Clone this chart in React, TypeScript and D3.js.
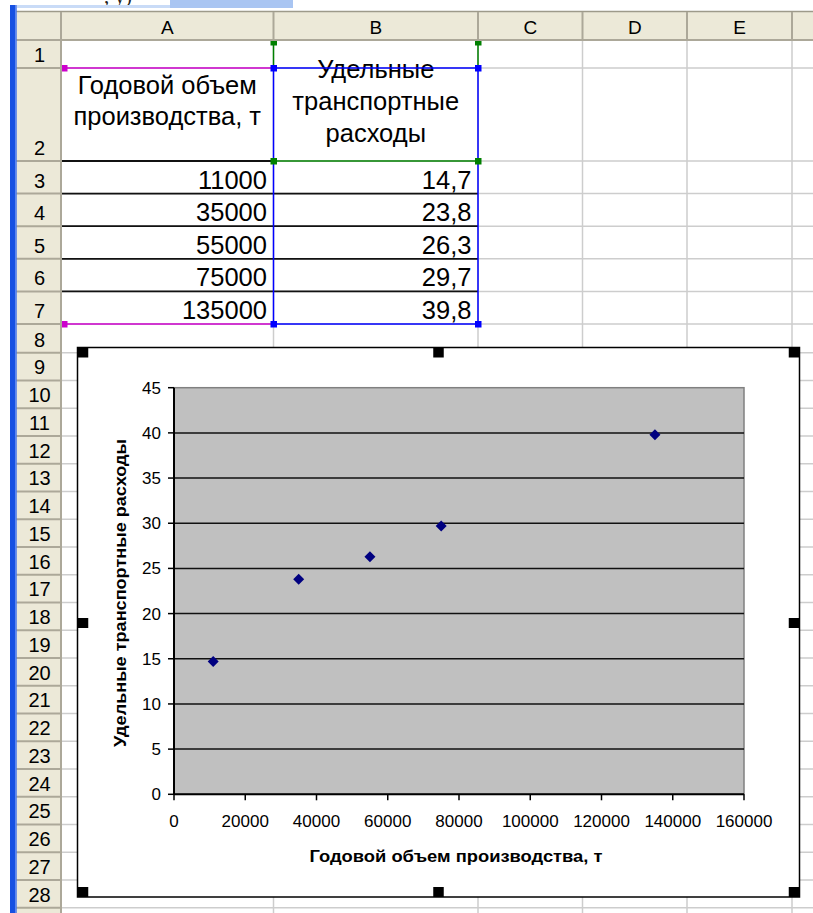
import React from "react";
import * as d3 from "d3";

// ---------- data ----------
const volumes = [11000, 35000, 55000, 75000, 135000];
const costs = [14.7, 23.8, 26.3, 29.7, 39.8];
const columnLetters = ["A", "B", "C", "D", "E"];
const rowNumbers = d3.range(1, 29);
const headerA = ["Годовой объем", "производства, т"];
const headerB = ["Удельные", "транспортные", "расходы"];
const xTickValues = [0, 20000, 40000, 60000, 80000, 100000, 120000, 140000, 160000];
const yTickValues = [0, 5, 10, 15, 20, 25, 30, 35, 40, 45];
const xTitle = "Годовой объем производства, т";
const yTitle = "Удельные транспортные расходы";

// ---------- layout ----------
const W = 813;
const H = 913;
const FONT = "'Liberation Sans', Arial, sans-serif";
const colX = [61, 273.5, 478, 582.5, 687, 792, 897];
const rowHeights = [28, 93, 32.6, 32.6, 32.6, 32.6, 32.6, 28.7, ...d3.range(21).map(() => 27.75)];
const rowY: number[] = [40];
rowHeights.forEach((h, i) => rowY.push(rowY[i] + h));

const HEADER_BG = "#ECE9D8";
const HEADER_LINE = "#ACA899";
const GRID = "#CDCDCD";

const chartBox = { x0: 77.5, y0: 347.5, x1: 799.5, y1: 897 };
const plot = { left: 174, right: 744, top: 387.7, bottom: 794.3 };

const x = d3.scaleLinear().domain([0, 160000]).range([plot.left, plot.right]);
const y = d3.scaleLinear().domain([0, 45]).range([plot.bottom, plot.top]);

const fmtComma = (v: number) => v.toFixed(1).replace(".", ",");

function Handle({ cx, cy }: { cx: number; cy: number }) {
  return <rect x={cx - 5.25} y={cy - 5} width={10.5} height={10} fill="#000" />;
}

function SelSquare({ cx, cy, color }: { cx: number; cy: number; color: string }) {
  return <rect x={cx - 3} y={cy - 3} width={6.5} height={6.5} fill={color} />;
}

export default function App() {
  const colCenter = (i: number) => (colX[i] + colX[i + 1]) / 2;
  const diamond = (cx: number, cy: number, r: number) =>
    d3.line()([
      [cx, cy - r],
      [cx + r, cy],
      [cx, cy + r],
      [cx - r, cy],
      [cx, cy - r],
    ]) + "Z";

  const chartMidX = (chartBox.x0 + chartBox.x1) / 2;
  const chartMidY = 623;

  return (
    <div style={{ position: "absolute", left: 0, top: 0, width: W, height: H, background: "#fff" }}>
      <svg width={W} height={H} viewBox={`0 0 ${W} ${H}`} style={{ display: "block" }}>
        <defs>
          <clipPath id="topclip">
            <rect x={0} y={0} width={W} height={10} />
          </clipPath>
        </defs>
        <rect x={0} y={0} width={W} height={H} fill="#fff" />

        {/* top strip */}
        <g clipPath="url(#topclip)">
          <text x={104} y={3} fontFamily="'Liberation Serif', serif" fontSize={21} fill="#222">
            , у)
          </text>
        </g>
        <rect x={17} y={5} width={276} height={3} fill="#C9DBF7" />
        <rect x={170} y={0} width={123} height={8} fill="#A9C5F2" />

        {/* cell gridlines */}
        {rowY.slice(1).map((ry, i) => (
          <line key={"gr" + i} x1={colX[0]} x2={W} y1={ry} y2={ry} stroke={GRID} strokeWidth={1.5} />
        ))}
        {colX.slice(1).map((cx, i) => (
          <line key={"gc" + i} x1={cx} x2={cx} y1={40} y2={H} stroke={GRID} strokeWidth={1.5} />
        ))}

        {/* table borders */}
        <line x1={colX[0]} x2={colX[1]} y1={rowY[2]} y2={rowY[2]} stroke="#111" strokeWidth={1.8} />
        {[3, 4, 5, 6].map((r) => (
          <line key={"tb" + r} x1={colX[0]} x2={colX[2]} y1={rowY[r]} y2={rowY[r]} stroke="#111" strokeWidth={1.8} />
        ))}

        {/* header texts in cells */}
        {headerA.map((t, i) => (
          <text key={"ha" + i} x={colCenter(0)} y={93.5 + i * 31.5} textAnchor="middle" fontFamily={FONT} fontSize={25.5} fill="#000">
            {t}
          </text>
        ))}
        {headerB.map((t, i) => (
          <text key={"hb" + i} x={colCenter(1)} y={77.5 + i * 32} textAnchor="middle" fontFamily={FONT} fontSize={25.5} fill="#000">
            {t}
          </text>
        ))}
        {volumes.map((v, i) => (
          <text key={"va" + i} x={colX[1] - 6.5} y={rowY[i + 3] - 5} textAnchor="end" fontFamily={FONT} fontSize={25.5} fill="#000">
            {v}
          </text>
        ))}
        {costs.map((v, i) => (
          <text key={"vb" + i} x={colX[2] - 6.5} y={rowY[i + 3] - 5} textAnchor="end" fontFamily={FONT} fontSize={25.5} fill="#000">
            {fmtComma(v)}
          </text>
        ))}

        {/* range highlights */}
        <line x1={colX[1]} x2={colX[1]} y1={41.5} y2={rowY[1]} stroke="#008000" strokeWidth={1.5} />
        <line x1={colX[2]} x2={colX[2]} y1={41.5} y2={rowY[1]} stroke="#008000" strokeWidth={1.5} />
        <line x1={colX[1]} x2={colX[2]} y1={rowY[2]} y2={rowY[2]} stroke="#008000" strokeWidth={1.5} />
        <line x1={colX[0] + 2} x2={colX[1]} y1={rowY[1]} y2={rowY[1]} stroke="#CC00CC" strokeWidth={1.5} />
        <line x1={colX[0] + 2} x2={colX[1]} y1={rowY[7]} y2={rowY[7]} stroke="#CC00CC" strokeWidth={1.5} />
        <rect x={colX[1]} y={rowY[1]} width={colX[2] - colX[1]} height={rowY[7] - rowY[1]} fill="none" stroke="#0000FF" strokeWidth={1.5} />
        <SelSquare cx={colX[1]} cy={42} color="#008000" />
        <SelSquare cx={colX[2]} cy={42} color="#008000" />
        <SelSquare cx={colX[1]} cy={rowY[2]} color="#008000" />
        <SelSquare cx={colX[2]} cy={rowY[2]} color="#008000" />
        <SelSquare cx={colX[0] + 3} cy={rowY[1]} color="#CC00CC" />
        <SelSquare cx={colX[0] + 3} cy={rowY[7]} color="#CC00CC" />
        <SelSquare cx={colX[1]} cy={rowY[1]} color="#0000FF" />
        <SelSquare cx={colX[2]} cy={rowY[1]} color="#0000FF" />
        <SelSquare cx={colX[1]} cy={rowY[7]} color="#0000FF" />
        <SelSquare cx={colX[2]} cy={rowY[7]} color="#0000FF" />

        {/* headers */}
        <rect x={16} y={12} width={W - 16} height={28} fill={HEADER_BG} />
        <rect x={16} y={40} width={45} height={H - 40} fill={HEADER_BG} />
        <line x1={16} x2={W} y1={11.5} y2={11.5} stroke="#9D9A8A" strokeWidth={1.5} />
        <line x1={16} x2={W} y1={40} y2={40} stroke={HEADER_LINE} strokeWidth={2} />
        {colX.map((cx, i) => (
          <line key={"hc" + i} x1={cx} x2={cx} y1={12} y2={40} stroke={HEADER_LINE} strokeWidth={2} />
        ))}
        <line x1={colX[0]} x2={colX[0]} y1={12} y2={H} stroke={HEADER_LINE} strokeWidth={2} />
        {rowY.slice(1).map((ry, i) => (
          <line key={"hr" + i} x1={16} x2={colX[0]} y1={ry} y2={ry} stroke={HEADER_LINE} strokeWidth={2} />
        ))}
        {columnLetters.map((c, i) => (
          <text key={"cl" + i} x={colCenter(i)} y={33.5} textAnchor="middle" fontFamily={FONT} fontSize={19} fill="#000">
            {c}
          </text>
        ))}
        {rowNumbers.map((n, i) => (
          <text key={"rn" + i} x={39.5} y={rowY[i + 1] - 6} textAnchor="middle" fontFamily={FONT} fontSize={20} fill="#000">
            {n}
          </text>
        ))}

        {/* left blue bar */}
        <rect x={10} y={5} width={6.5} height={H - 5} fill="#1650E2" />
        <rect x={15} y={5} width={1.5} height={H - 5} fill="#5C86EE" />

        {/* ---------- chart ---------- */}
        <rect
          x={chartBox.x0}
          y={chartBox.y0}
          width={chartBox.x1 - chartBox.x0}
          height={chartBox.y1 - chartBox.y0}
          fill="#fff"
          stroke="#000"
          strokeWidth={1.5}
        />
        <rect
          x={plot.left}
          y={plot.top}
          width={plot.right - plot.left}
          height={plot.bottom - plot.top}
          fill="#C0C0C0"
          stroke="#808080"
          strokeWidth={1.5}
        />
        {yTickValues
          .filter((v) => v > 0 && v < 45)
          .map((v) => (
            <line key={"gl" + v} x1={plot.left} x2={plot.right} y1={y(v)} y2={y(v)} stroke="#111" strokeWidth={1.5} />
          ))}
        <line x1={plot.left} x2={plot.left} y1={plot.top} y2={plot.bottom} stroke="#000" strokeWidth={2} />
        <line x1={plot.left} x2={plot.right} y1={plot.bottom} y2={plot.bottom} stroke="#000" strokeWidth={2} />
        {yTickValues.map((v) => (
          <g key={"yt" + v}>
            <line x1={plot.left - 6} x2={plot.left} y1={y(v)} y2={y(v)} stroke="#000" strokeWidth={1.5} />
            <text x={161} y={y(v) + 6} textAnchor="end" fontFamily={FONT} fontSize={17} fill="#000">
              {v}
            </text>
          </g>
        ))}
        {xTickValues.map((v) => (
          <g key={"xt" + v}>
            <line x1={x(v)} x2={x(v)} y1={plot.bottom} y2={plot.bottom + 6} stroke="#000" strokeWidth={1.5} />
            <text x={x(v)} y={826.5} textAnchor="middle" fontFamily={FONT} fontSize={17} fill="#000">
              {v}
            </text>
          </g>
        ))}
        <text
          x={(plot.left + plot.right) / 2 - 3}
          y={861.5}
          textAnchor="middle"
          fontFamily={FONT}
          fontWeight="bold"
          fontSize={17}
          textLength={293}
          lengthAdjust="spacingAndGlyphs"
          fill="#000"
        >
          {xTitle}
        </text>
        <text
          transform={`translate(126, 593) rotate(-90)`}
          textAnchor="middle"
          fontFamily={FONT}
          fontWeight="bold"
          fontSize={17}
          textLength={308}
          lengthAdjust="spacingAndGlyphs"
          fill="#000"
        >
          {yTitle}
        </text>
        {volumes.map((v, i) => (
          <path key={"m" + i} d={diamond(x(v), y(costs[i]), 5.5)} fill="#000080" />
        ))}

        {/* selection handles */}
        <Handle cx={chartBox.x0 + 5.5} cy={chartBox.y0 + 5} />
        <Handle cx={chartMidX} cy={chartBox.y0 + 5} />
        <Handle cx={chartBox.x1 - 5.5} cy={chartBox.y0 + 5} />
        <Handle cx={chartBox.x0 + 5.5} cy={chartMidY} />
        <Handle cx={chartBox.x1 - 5.5} cy={chartMidY} />
        <Handle cx={chartBox.x0 + 5.5} cy={chartBox.y1 - 5} />
        <Handle cx={chartMidX} cy={chartBox.y1 - 5} />
        <Handle cx={chartBox.x1 - 5.5} cy={chartBox.y1 - 5} />
      </svg>
    </div>
  );
}
